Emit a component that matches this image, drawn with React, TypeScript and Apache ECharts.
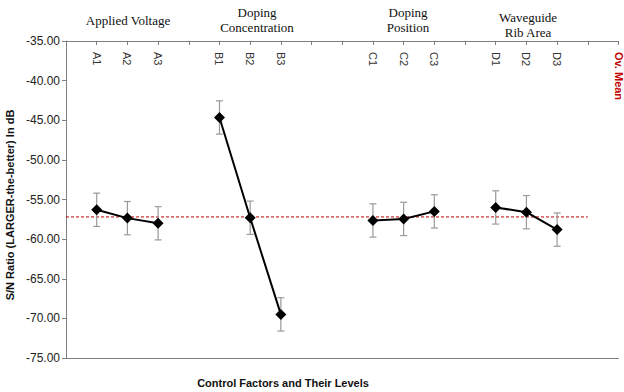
import React, { useEffect, useRef } from "react";
import * as echarts from "echarts";

const categories = ["", "A1", "A2", "A3", "", "B1", "B2", "B3", "", "", "C1", "C2", "C3", "", "D1", "D2", "D3", "", "Ov. Mean"];
const snValues: (number | null)[] = [null, -56.3, -57.35, -58.0, null, -44.65, -57.3, -69.5, null, null, -57.65, -57.45, -56.5, null, -56.0, -56.6, -58.8, null, null];
const errHalf: (number | null)[] = [null, 2.1, 2.1, 2.1, null, 2.1, 2.1, 2.1, null, null, 2.1, 2.1, 2.1, null, 2.1, 2.1, 2.1, null, null];
const overallMean = -57.2;
const meanSpanLastIndex = 17;
const groupTitles = [
  { text: "Applied Voltage", x: 128, y: 20 },
  { text: "Doping\nConcentration", x: 257, y: 20 },
  { text: "Doping\nPosition", x: 408, y: 20 },
  { text: "Waveguide\nRib Area", x: 528, y: 25 },
];
const yTitle = "S/N Ratio (LARGER-the-better) In dB";
const xTitle = "Control Factors and Their Levels";

export default function App() {
  const ref = useRef<HTMLDivElement>(null);
  useEffect(() => {
    if (!ref.current) return;
    const chart = echarts.init(ref.current, null, { renderer: "svg" });
    const errData = snValues
      .map((v, i) => (v === null || errHalf[i] === null ? null : [i, v - (errHalf[i] as number), v + (errHalf[i] as number)]))
      .filter((d) => d !== null);
    const meanData = categories.map((_, i) => (i <= meanSpanLastIndex ? overallMean : null));
    chart.setOption({
      animation: false,
      grid: { left: 66, right: 0, top: 41, bottom: 34, containLabel: false },
      xAxis: [
        {
          type: "category",
          data: categories,
          position: "top",
          boundaryGap: false,
          axisLine: { show: true, lineStyle: { color: "#808080", width: 1 } },
          axisTick: { show: true, inside: true, length: 4, interval: 0, lineStyle: { color: "#808080" } },
          axisLabel: {
            show: true,
            inside: true,
            rotate: 90,
            interval: 0,
            margin: 11,
            verticalAlign: "middle",
            align: "left",
            fontFamily: "Liberation Sans, Arial",
            fontSize: 11,
            color: "#333",
            formatter: (v: string) => (v === "Ov. Mean" ? "{red|" + v + "}" : v),
            rich: { red: { color: "#c00000", fontWeight: "bold", fontSize: 11, fontFamily: "Liberation Sans, Arial" } },
          },
          splitLine: { show: false },
        },
        {
          type: "category",
          data: categories,
          position: "bottom",
          boundaryGap: false,
          axisLine: { show: true, lineStyle: { color: "#808080", width: 1 } },
          axisTick: { show: false },
          axisLabel: { show: false },
          splitLine: { show: false },
        },
      ],
      yAxis: {
        type: "value",
        min: -75,
        max: -35,
        interval: 5,
        axisLine: { show: true, lineStyle: { color: "#808080", width: 1 } },
        axisTick: { show: true, length: 4, lineStyle: { color: "#808080" } },
        axisLabel: {
          formatter: (v: number) => v.toFixed(2),
          fontFamily: "Liberation Sans, Arial",
          fontSize: 12,
          color: "#222",
          margin: 6,
        },
        splitLine: { show: false },
      },
      series: [
        {
          type: "line",
          data: meanData,
          showSymbol: false,
          symbol: "none",
          lineStyle: { color: "#c00000", width: 1, type: [3, 2] },
          z: 1,
        },
        {
          type: "custom",
          data: errData,
          encode: { x: 0, y: [1, 2] },
          z: 2,
          renderItem: (params: any, api: any) => {
            const lo = api.coord([api.value(0), api.value(1)]);
            const hi = api.coord([api.value(0), api.value(2)]);
            const cap = 3.5;
            const style = { stroke: "#9a9a9a", lineWidth: 1.2 };
            return {
              type: "group",
              children: [
                { type: "line", shape: { x1: lo[0], y1: lo[1], x2: hi[0], y2: hi[1] }, style },
                { type: "line", shape: { x1: lo[0] - cap, y1: lo[1], x2: lo[0] + cap, y2: lo[1] }, style },
                { type: "line", shape: { x1: hi[0] - cap, y1: hi[1], x2: hi[0] + cap, y2: hi[1] }, style },
              ],
            };
          },
        },
        {
          type: "line",
          data: snValues,
          connectNulls: false,
          symbol: "diamond",
          symbolSize: 11,
          itemStyle: { color: "#000" },
          lineStyle: { color: "#000", width: 2 },
          z: 3,
        },
      ],
      graphic: [
        ...groupTitles.map((g) => ({
          type: "text",
          x: g.x,
          y: g.y,
          style: {
            text: g.text,
            align: "center",
            verticalAlign: "middle",
            fontFamily: "Liberation Serif, Times New Roman",
            fontSize: 13,
            lineHeight: 15,
            fill: "#111",
          },
        })),
        {
          type: "text",
          x: 10,
          y: 205,
          rotation: Math.PI / 2,
          style: {
            text: yTitle,
            align: "center",
            verticalAlign: "middle",
            fontFamily: "Liberation Sans, Arial",
            fontWeight: "bold",
            fontSize: 11,
            fill: "#111",
          },
        },
        {
          type: "text",
          x: 283,
          y: 383,
          style: {
            text: xTitle,
            align: "center",
            verticalAlign: "middle",
            fontFamily: "Liberation Sans, Arial",
            fontWeight: "bold",
            fontSize: 11,
            fill: "#111",
          },
        },
      ],
    });
    return () => chart.dispose();
  }, []);
  return <div ref={ref} style={{ width: 624, height: 392, position: "absolute", left: 0, top: 0 }} />;
}
